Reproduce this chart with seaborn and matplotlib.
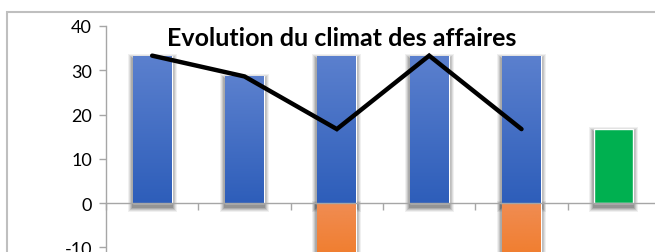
import numpy as np
import pandas as pd
import matplotlib
matplotlib.use("Agg")
import matplotlib.pyplot as plt
from matplotlib.patches import Rectangle
from matplotlib.colors import to_rgb, to_hex
import seaborn as sns

# Data
periods = ["P1", "P2", "P3", "P4", "P5", "P6"]
positive = [33.3, 28.6, 33.3, 33.3, 33.3, 0]
negative = [0, 0, -16.7, 0, -16.7, 0]
balance_bar = [0, 0, 0, 0, 0, 16.7]
balance_line = [33.3, 28.6, 16.7, 33.3, 16.7]
title = "Evolution du climat des affaires"

sns.set_style("white")
plt.rcParams["font.family"] = ["Lato", "DejaVu Sans"]
plt.rcParams["axes.unicode_minus"] = False

W, H = 655, 253
fig = plt.figure(figsize=(W / 100, H / 100), dpi=100)
ax = fig.add_axes([106 / W, 0, 554 / W, (H - 27) / H])

df = pd.DataFrame({"period": periods, "pos": positive, "neg": negative, "bal": balance_bar})
sns.barplot(data=df, x="period", y="pos", color="#4472C4", width=0.42, saturation=1, ax=ax)
sns.barplot(data=df, x="period", y="neg", color="#ED7D31", width=0.42, saturation=1, ax=ax)
sns.barplot(data=df, x="period", y="bal", color="#00B050", width=0.42, saturation=1, ax=ax)

ylo, yhi = -11.07, 40
ax.set_xlim(-0.5, 5.5)
ax.set_ylim(ylo, yhi)

# pixel sizes in data units
px_x = 6 / 554
px_y = (yhi - ylo) / (H - 27)

gradients = {
    "#4472c4": ("#5B80CE", "#2E5EBA"),
    "#ed7d31": ("#F08C52", "#F07820"),
}

bars = [p for p in ax.patches if abs(p.get_height()) > 0]
for p in ax.patches:
    if abs(p.get_height()) == 0:
        p.set_visible(False)

# soft shadows
for p in bars:
    x, w = p.get_x(), p.get_width()
    y0 = min(p.get_y(), p.get_y() + p.get_height())
    y1 = max(p.get_y(), p.get_y() + p.get_height())
    for k, a in [(5, 0.06), (4, 0.08), (3, 0.10), (2, 0.12), (1, 0.14)]:
        ax.add_patch(Rectangle((x - k * px_x, y0 - (k + 4) * px_y),
                               w + 2 * k * px_x, (y1 - y0) + (2 * k + 1) * px_y,
                               facecolor="black", alpha=a, lw=0, zorder=1))

for p in bars:
    p.set_zorder(2)
    fc = to_hex(p.get_facecolor()).lower()
    if fc in gradients:
        top, bot = (np.array(to_rgb(c)) for c in gradients[fc])
        t = np.linspace(0, 1, 64)[:, None, None]
        img = top * (1 - t) + bot * t
        x, w = p.get_x(), p.get_width()
        y0 = min(p.get_y(), p.get_y() + p.get_height())
        y1 = max(p.get_y(), p.get_y() + p.get_height())
        im = ax.imshow(img, extent=[x, x + w, y0, y1], aspect="auto",
                       origin="upper", zorder=2.5, interpolation="bilinear")
        im.set_clip_path(p)

sns.lineplot(x=list(range(len(balance_line))), y=balance_line, color="black",
             lw=3.2, ax=ax, zorder=4, solid_capstyle="round", solid_joinstyle="miter")

ax.set_xlim(-0.5, 5.5)
ax.set_ylim(ylo, yhi)
ax.set_yticks([-10, 0, 10, 20, 30, 40])
ax.set_xticks(np.arange(-0.5, 5.6, 1))
ax.set_xticklabels([])
ax.set_xlabel("")
ax.set_ylabel("")
ax.tick_params(axis="y", labelsize=13, length=5, width=1, color="#A6A6A6",
               direction="out", left=True, pad=5, labelcolor="black")
ax.tick_params(axis="x", length=5, width=1, color="#A6A6A6", direction="out", bottom=True)

for s in ["top", "right"]:
    ax.spines[s].set_visible(False)
ax.spines["left"].set_color("#A6A6A6")
ax.spines["bottom"].set_color("#A6A6A6")
ax.spines["bottom"].set_position(("data", 0))
ax.spines["bottom"].set_zorder(3)
ax.spines["left"].set_linewidth(1)
ax.spines["bottom"].set_linewidth(1)

fig.text(342 / W, 1 - 38 / H, title, ha="center", va="center",
         fontsize=18, fontweight="bold", color="black")

fig.add_artist(Rectangle((7 / W, -0.2), 1.2, (H - 13) / H + 0.2, transform=fig.transFigure,
                         fill=False, ec="#BFBFBF", lw=1.5))

fig.savefig("out.png", dpi=100)
